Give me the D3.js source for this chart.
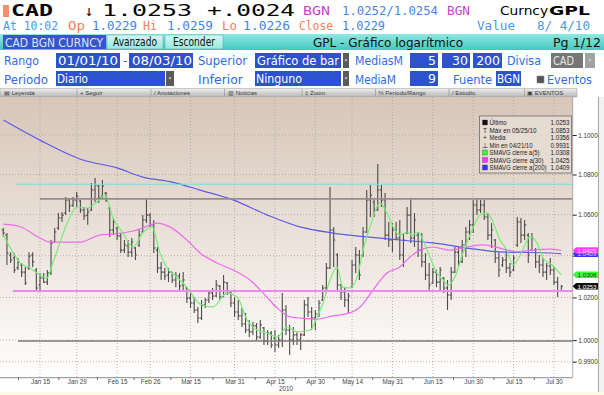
<!DOCTYPE html>
<html>
<head>
<meta charset="utf-8">
<script src="https://cdn.jsdelivr.net/npm/d3@7"></script>
<style>
html, body { margin: 0; padding: 0; background: #fff; overflow: hidden; }
svg { display: block; }
</style>
</head>
<body>
<div id="chart"></div>
<script>
// trading days 01/01/10 - 08/03/10
var dates = d3.timeDay.range(new Date(2010, 0, 1), new Date(2010, 7, 4)).filter(function(d) {
    var w = d.getDay(); return w > 0 && w < 6;
});

var opens = [1.0525,1.0500,1.0403,1.0389,1.0341,1.0355,1.0321,1.0341,1.0403,1.0331,
 1.0259,1.0293,1.0273,1.0317,1.0466,1.0535,1.0584,1.0608,1.0673,1.0648,
 1.0673,1.0668,1.0623,1.0598,1.0623,1.0722,1.0742,1.0692,1.0707,1.0633,
 1.0525,1.0535,1.0496,1.0427,1.0447,1.0417,1.0437,1.0452,1.0515,1.0574,
 1.0598,1.0550,1.0427,1.0341,1.0321,1.0307,1.0321,1.0283,1.0302,1.0259,
 1.0245,1.0197,1.0174,1.0141,1.0103,1.0164,1.0188,1.0221,1.0207,1.0254,
 1.0202,1.0269,1.0226,1.0174,1.0131,1.0113,1.0075,1.0047,1.0038,1.0066,
 1.0014,1.0057,0.9995,1.0033,1.0009,0.9977,1.0000,1.0141,1.0047,1.0000,
 1.0024,1.0000,1.0024,1.0164,1.0131,1.0103,1.0122,1.0188,1.0245,1.0341,
 1.0525,1.0403,1.0259,1.0226,1.0188,1.0249,1.0355,1.0403,1.0403,1.0515,
 1.0673,1.0663,1.0623,1.0722,1.0673,1.0500,1.0476,1.0525,1.0486,1.0403,
 1.0510,1.0598,1.0486,1.0500,1.0427,1.0370,1.0307,1.0269,1.0321,1.0273,
 1.0293,1.0245,1.0212,1.0321,1.0417,1.0370,1.0452,1.0515,1.0550,1.0648,
 1.0623,1.0648,1.0589,1.0500,1.0476,1.0389,1.0355,1.0379,1.0341,1.0331,
 1.0452,1.0564,1.0500,1.0500,1.0427,1.0427,1.0370,1.0355,1.0321,1.0350,
 1.0331,1.0273,1.0229];
var highs = [1.0535,1.0510,1.0417,1.0413,1.0389,1.0365,1.0345,1.0417,1.0417,1.0341,
 1.0317,1.0317,1.0331,1.0476,1.0535,1.0608,1.0613,1.0688,1.0683,1.0688,
 1.0712,1.0673,1.0638,1.0633,1.0757,1.0782,1.0747,1.0772,1.0712,1.0638,
 1.0584,1.0540,1.0510,1.0476,1.0476,1.0486,1.0442,1.0525,1.0598,1.0683,
 1.0608,1.0574,1.0442,1.0370,1.0341,1.0341,1.0321,1.0321,1.0317,1.0321,
 1.0249,1.0226,1.0202,1.0155,1.0188,1.0197,1.0235,1.0245,1.0283,1.0259,
 1.0307,1.0273,1.0226,1.0202,1.0188,1.0150,1.0127,1.0094,1.0085,1.0080,
 1.0094,1.0061,1.0047,1.0042,1.0047,1.0024,1.0221,1.0164,1.0071,1.0061,
 1.0038,1.0033,1.0188,1.0202,1.0155,1.0141,1.0188,1.0259,1.0365,1.0737,
 1.0540,1.0413,1.0264,1.0249,1.0221,1.0379,1.0442,1.0427,1.0540,1.0722,
 1.0747,1.0673,1.0853,1.0747,1.0707,1.0564,1.0559,1.0564,1.0574,1.0510,
 1.0638,1.0683,1.0608,1.0515,1.0510,1.0413,1.0365,1.0341,1.0331,1.0345,
 1.0297,1.0283,1.0345,1.0442,1.0442,1.0476,1.0540,1.0574,1.0673,1.0683,
 1.0673,1.0673,1.0608,1.0559,1.0481,1.0417,1.0394,1.0427,1.0365,1.0403,
 1.0589,1.0584,1.0574,1.0510,1.0510,1.0437,1.0403,1.0389,1.0365,1.0389,
 1.0345,1.0297,1.0259];
var lows = [1.0491,1.0355,1.0365,1.0317,1.0331,1.0297,1.0259,1.0331,1.0345,1.0235,
 1.0226,1.0269,1.0259,1.0307,1.0461,1.0525,1.0564,1.0598,1.0613,1.0638,
 1.0638,1.0608,1.0574,1.0550,1.0618,1.0663,1.0658,1.0683,1.0663,1.0491,
 1.0500,1.0476,1.0413,1.0413,1.0394,1.0394,1.0379,1.0442,1.0515,1.0559,
 1.0540,1.0413,1.0317,1.0283,1.0283,1.0273,1.0269,1.0249,1.0235,1.0235,
 1.0174,1.0150,1.0127,1.0080,1.0094,1.0150,1.0174,1.0188,1.0202,1.0188,
 1.0202,1.0212,1.0155,1.0108,1.0094,1.0061,1.0033,1.0014,1.0024,1.0000,
 1.0005,0.9977,0.9977,0.9963,0.9945,0.9963,0.9968,1.0024,0.9931,0.9977,
 0.9977,0.9954,1.0019,1.0108,1.0047,1.0047,1.0108,1.0183,1.0221,1.0336,
 1.0345,1.0235,1.0188,1.0155,1.0127,1.0245,1.0317,1.0283,1.0394,1.0510,
 1.0589,1.0589,1.0618,1.0638,1.0476,1.0442,1.0417,1.0476,1.0379,1.0345,
 1.0505,1.0461,1.0442,1.0394,1.0345,1.0283,1.0226,1.0264,1.0249,1.0226,
 1.0221,1.0141,1.0188,1.0317,1.0345,1.0365,1.0394,1.0476,1.0510,1.0598,
 1.0608,1.0574,1.0476,1.0437,1.0365,1.0297,1.0345,1.0317,1.0297,1.0326,
 1.0442,1.0461,1.0476,1.0365,1.0422,1.0341,1.0317,1.0297,1.0283,1.0307,
 1.0259,1.0202,1.0226];
var closes = [1.0510,1.0413,1.0379,1.0331,1.0370,1.0321,1.0269,1.0398,1.0370,1.0245,
 1.0293,1.0273,1.0317,1.0461,1.0515,1.0584,1.0598,1.0673,1.0643,1.0673,
 1.0692,1.0623,1.0594,1.0613,1.0722,1.0747,1.0683,1.0742,1.0673,1.0525,
 1.0564,1.0496,1.0427,1.0452,1.0417,1.0466,1.0403,1.0500,1.0574,1.0598,
 1.0550,1.0437,1.0341,1.0321,1.0302,1.0321,1.0283,1.0302,1.0254,1.0283,
 1.0197,1.0174,1.0141,1.0103,1.0164,1.0188,1.0221,1.0207,1.0259,1.0202,
 1.0273,1.0226,1.0174,1.0131,1.0113,1.0075,1.0047,1.0038,1.0066,1.0014,
 1.0071,0.9995,1.0033,0.9977,0.9977,1.0000,1.0141,1.0047,1.0000,1.0024,
 1.0000,1.0024,1.0164,1.0131,1.0103,1.0122,1.0174,1.0245,1.0341,1.0525,
 1.0476,1.0259,1.0226,1.0188,1.0207,1.0355,1.0403,1.0307,1.0515,1.0673,
 1.0697,1.0623,1.0722,1.0673,1.0500,1.0476,1.0525,1.0486,1.0403,1.0476,
 1.0598,1.0486,1.0574,1.0427,1.0370,1.0307,1.0259,1.0321,1.0273,1.0331,
 1.0245,1.0212,1.0321,1.0417,1.0370,1.0452,1.0515,1.0550,1.0648,1.0623,
 1.0648,1.0589,1.0500,1.0525,1.0389,1.0331,1.0379,1.0341,1.0321,1.0389,
 1.0564,1.0500,1.0550,1.0403,1.0486,1.0370,1.0355,1.0321,1.0350,1.0331,
 1.0273,1.0231,1.0253];

// moving averages: [day index, value]
var sma5Pts = [[0,1.0500],[1.8,1.0442],[4.6,1.0365],[7.3,1.0341],[9.2,1.0317],[11.9,1.0293],
 [13.5,1.0365],[15.4,1.0461],[17.4,1.0559],[20.1,1.0638],[22.8,1.0633],[25.5,1.0663],
 [27.7,1.0697],[29.9,1.0584],[32.6,1.0510],[35.3,1.0442],[38,1.0510],[40.5,1.0540],
 [42.7,1.0413],[44.6,1.0341],[47.3,1.0297],[50,1.0249],[53.6,1.0169],[57.1,1.0155],
 [60.9,1.0221],[63.7,1.0202],[66.4,1.0094],[69.1,1.0047],[71.8,1.0033],[74.6,1.0014],
 [77.3,1.0061],[80,1.0038],[83.6,1.0047],[85.5,1.0108],[87.1,1.0174],[89,1.0283],
 [90.9,1.0345],[92.5,1.0249],[94.4,1.0245],[96.4,1.0297],[98,1.0427],[99.9,1.0540],
 [102.6,1.0658],[104.5,1.0608],[106.2,1.0540],[108,1.0500],[110,1.0515],[111.3,1.0500],
 [113,1.0515],[114.3,1.0476],[116.2,1.0394],[118.1,1.0317],[119.8,1.0283],[121.2,1.0259],
 [123,1.0297],[125.2,1.0413],[127.7,1.0525],[129.9,1.0598],[131.8,1.0608],[133.4,1.0564],
 [135.3,1.0476],[137.2,1.0427],[138.8,1.0355],[140.8,1.0403],[143.5,1.0491],[145.4,1.0461],
 [147,1.0389],[149.5,1.0355],[152,1.0308]];
var sma30Pts = [[0,1.0554],[4.6,1.0541],[10,1.0486],[12.7,1.0466],[20.9,1.0466],[26.3,1.0500],
 [29.9,1.0505],[35.3,1.0520],[38,1.0535],[41.9,1.0559],[45.4,1.0540],[50,1.0476],
 [53.6,1.0413],[58.2,1.0365],[62.6,1.0331],[67.2,1.0283],[71.8,1.0202],[74.6,1.0150],
 [78.1,1.0108],[80.8,1.0103],[85.5,1.0098],[89.8,1.0113],[94.4,1.0127],[97.2,1.0155],
 [100.7,1.0235],[104.5,1.0317],[108,1.0345],[110.8,1.0394],[113.5,1.0427],[117,1.0442],
 [121.7,1.0427],[126.3,1.0442],[130.7,1.0452],[135.3,1.0437],[140,1.0418],[144.3,1.0427],
 [149,1.0432],[152,1.0425]];
var sma200Pts = [[0,1.1077],[10,1.0974],[21.7,1.0873],[31,1.0833],[38,1.0787],[46,1.0762],
 [53.6,1.0722],[62.6,1.0673],[71.8,1.0599],[80.8,1.0540],[89.8,1.0510],[99,1.0491],
 [108,1.0476],[117,1.0462],[126.3,1.0437],[135.3,1.0418],[149,1.0413],[152,1.0409]];

// horizontal lines drawn on the chart
var levelValues = [1.0751, 1.0678, 1.0231, 0.9996];
var levelStart = [3.7, 10, 2.6, 4];

var yTicks = [0.99, 1.00, 1.02, 1.04, 1.06, 1.08, 1.10];
var tickDates = ["2010-01-15","2010-01-29","2010-02-15","2010-02-26","2010-03-15","2010-03-31",
 "2010-04-15","2010-04-30","2010-05-14","2010-05-31","2010-06-15","2010-06-30","2010-07-15","2010-07-30"];
var tickLabels = ["Jan 15","Jan 29","Feb 15","Feb 26","Mar 15","Mar 31","Apr 15","Apr 30",
 "May 14","May 31","Jun 15","Jun 30","Jul 15","Jul 30"];

var legendNames = ["Último","Máx en 05/25/10","Media","Mín en 04/21/10",
 "SMAVG cierre a(5)","SMAVG cierre a(30)","SMAVG cierre a(200)"];
var legendValues = [1.0253, 1.0853, 1.0356, 0.9931, 1.0308, 1.0425, 1.0409];

var sans = "'DejaVu Sans', Verdana, sans-serif";
var small = "'Liberation Sans', Arial, sans-serif";
var mono = "'DejaVu Sans Mono', monospace";
var fmt = d3.format(".4f");
var iso = d3.timeFormat("%Y-%m-%d");
var tickIdx = tickDates.map(function(s) {
    return dates.findIndex(function(d) { return iso(d) === s; });
});

var svg = d3.select("#chart").append("svg").attr("width", 604).attr("height", 395);
var defs = svg.append("defs");
function grad(id, stops) {
    var g = defs.append("linearGradient").attr("id", id)
        .attr("x1", 0).attr("y1", 0).attr("x2", 0).attr("y2", 1);
    stops.forEach(function(s) { g.append("stop").attr("offset", s[0]).attr("stop-color", s[1]); });
}
grad("plotBg", [[0, "#d7c6b9"], [0.5, "#ebe2da"], [0.85, "#f9f6f3"], [1, "#ffffff"]]);
grad("teal", [[0, "#8fe9e2"], [1, "#43c8c0"]]);
grad("tab", [[0, "#d2f8f4"], [1, "#98e8e0"]]);
grad("tool", [[0, "#eeeeee"], [1, "#b6b6b6"]]);

function txt(g, s, x0, y0, o) {
    var t = g.append("text").attr("x", x0).attr("y", y0).text(s)
        .attr("font-family", o.f || sans).attr("font-size", o.s || 12)
        .attr("fill", o.c || "#000");
    if (o.w) t.attr("textLength", o.w).attr("lengthAdjust", "spacingAndGlyphs");
    if (o.b) t.attr("font-weight", "bold");
    if (o.a) t.attr("text-anchor", o.a);
    return t;
}

// ---------- header ----------
var head = svg.append("g");
head.append("rect").attr("x", 3).attr("y", 5).attr("width", 6).attr("height", 12).attr("fill", "#f28e6e");
txt(head, "CAD", 11, 15.5, {f: mono, s: 15, w: 42, b: 1});
txt(head, "↓", 85, 15.5, {f: mono, s: 15, w: 8});
txt(head, "1.0253", 102, 15.5, {f: mono, s: 15, w: 90});
txt(head, "+.0024", 207, 15.5, {f: mono, s: 15, w: 88});
txt(head, "BGN", 303, 15, {f: mono, s: 11.5, w: 27, c: "#cc3fcc"});
txt(head, "1.0252/1.0254", 342, 15, {f: mono, s: 12, w: 96, c: "#4a85e6"});
txt(head, "BGN", 447, 15, {f: mono, s: 11.5, w: 23, c: "#cc3fcc"});
txt(head, "Curncy", 500, 15, {s: 12, w: 48});
txt(head, "GPL", 549, 15, {s: 13, w: 41, b: 1});

var blue2 = "#3f86e4", orange = "#f2805a", light = "#4b97ea";
[["At 10:02", 3, 55, light], ["Op", 68, 17, orange], ["1.0229", 92, 45, blue2],
 ["Hi", 143, 14, orange], ["1.0259", 167, 46, blue2], ["Lo", 222, 15, orange],
 ["1.0226", 243, 47, blue2], ["Close", 299, 34, orange], ["1.0229", 342, 43, blue2],
 ["Value", 477, 38, light], ["8/ 4/10", 537, 53, light]].forEach(function(r) {
    txt(head, r[0], r[1], 29.5, {f: mono, s: 12, w: r[2], c: r[3]});
});

head.append("rect").attr("x", 0).attr("y", 34).attr("width", 604).attr("height", 16).attr("fill", "url(#teal)");
head.append("rect").attr("x", 3).attr("y", 35).attr("width", 103).attr("height", 14).attr("fill", "#3557cc");
txt(head, "CAD BGN CURNCY", 5, 46.5, {s: 12, w: 98, c: "#dce4ff"});
[[107, 56, "Avanzado", 113, 44], [165, 58, "Esconder", 173, 42]].forEach(function(t) {
    head.append("rect").attr("x", t[0]).attr("y", 35).attr("width", t[1]).attr("height", 14)
        .attr("fill", "url(#tab)").attr("stroke", "#4aa9a2").attr("stroke-width", 0.5);
    txt(head, t[2], t[3], 46, {s: 11.5, w: t[4], c: "#111"});
});
txt(head, "GPL - Gráfico logarítmico", 313, 46.5, {s: 12, w: 150, c: "#111"});
txt(head, "Pg 1/12", 553, 46.5, {s: 12, w: 48, c: "#111"});

var lblBlue = "#2e6be6", boxBlue = "#2d52cf";
function box(x0, y0, w, s, tx, tw, right) {
    head.append("rect").attr("x", x0).attr("y", y0).attr("width", w).attr("height", 15).attr("fill", boxBlue);
    return txt(head, s, right ? x0 + w - 2 : tx, y0 + 12, {s: 12.5, w: tw, c: "#fff", a: right ? "end" : null});
}
function drop(x0, y0, w, fill) {
    head.append("rect").attr("x", x0).attr("y", y0).attr("width", w).attr("height", 15).attr("fill", fill || "#5a5a5a");
    head.append("path").attr("d", "M" + (x0 + w / 2 - 1.5) + "," + (y0 + 6.5) + "h3l-1.5,2z").attr("fill", "#e0e0e0");
}
txt(head, "Rango", 4, 65, {s: 12.5, w: 35, c: lblBlue});
box(56, 53, 64, "01/01/10", 58, 60);
txt(head, "-", 123, 65, {s: 12.5, c: lblBlue});
box(129, 53, 64, "08/03/10", 132, 60);
txt(head, "Superior", 198, 65, {s: 12.5, w: 49, c: lblBlue});
box(255, 53, 86, "Gráfico de bar", 257, 82);
drop(343, 53, 6);
txt(head, "MediasM", 355, 65, {s: 12.5, w: 48, c: lblBlue});
box(410, 53, 28, "5", 0, 0, true);
box(442, 53, 28, "30", 0, 0, true);
box(473, 53, 29, "200", 0, 0, true);
txt(head, "Divisa", 507, 65, {s: 12.5, w: 34, c: lblBlue});
head.append("rect").attr("x", 551).attr("y", 53).attr("width", 32).attr("height", 15).attr("fill", "#767676");
txt(head, "CAD", 553, 65, {s: 12.5, w: 21, c: "#e6e6e6"});
drop(585, 53, 10, "#a2a2a2");

txt(head, "Periodo", 4, 83.5, {s: 12.5, w: 44, c: lblBlue});
box(56, 71, 109, "Diario", 57, 31);
drop(166, 71, 8);
txt(head, "Inferior", 198, 83.5, {s: 12.5, w: 45, c: lblBlue});
box(255, 71, 86, "Ninguno", 256, 46);
drop(343, 71, 6);
txt(head, "MediaM", 355, 83.5, {s: 12.5, w: 41, c: lblBlue});
box(410, 71, 28, "9", 0, 0, true);
txt(head, "Fuente", 453, 83.5, {s: 12.5, w: 39, c: lblBlue});
box(496, 71, 25, "BGN", 497, 23);
head.append("rect").attr("x", 537).attr("y", 76).attr("width", 7).attr("height", 7)
    .attr("fill", "#555").attr("stroke", "#888").attr("stroke-width", 0.6);
txt(head, "Eventos", 547, 83.5, {s: 12.5, w: 45, c: lblBlue});

// toolbar
var tool = svg.append("g");
tool.append("rect").attr("x", 0).attr("y", 88.5).attr("width", 577).attr("height", 8.5)
    .attr("fill", "url(#tool)").attr("stroke", "#9a9a9a").attr("stroke-width", 0.5);
[77, 151, 224.5, 302, 375.5, 449, 524.6].forEach(function(sx) {
    tool.append("line").attr("x1", sx).attr("x2", sx).attr("y1", 89).attr("y2", 96.5)
        .attr("stroke", "#8a8a8a").attr("stroke-width", 0.6);
});
[["▤ Leyenda", 4], ["+ Seguir", 80], ["/ Anotaciones", 154], ["▥ Noticias", 228],
 ["‡ Zoom", 305], ["⅍ Período/Rango", 378], ["/ Estudio", 452], ["▣ EVENTOS", 527]].forEach(function(t) {
    txt(tool, t[0], t[1], 95.3, {f: small, s: 6, c: "#3a3a3a"});
});

// ---------- plot ----------
var x = d3.scaleLinear().domain([-0.35, 155.1]).range([2, 572.7]);
var y = d3.scaleLog().domain([0.98266, 1.1196]).range([377.7, 97]);

defs.append("clipPath").attr("id", "clip").append("rect")
    .attr("x", 0).attr("y", 97).attr("width", 572.7).attr("height", 280.7);

var plot = svg.append("g");
plot.append("rect").attr("x", 0).attr("y", 97).attr("width", 572.7).attr("height", 280.7)
    .attr("fill", "url(#plotBg)");

var grid = plot.append("g").attr("stroke", "#a8a29c").attr("stroke-width", 0.8)
    .attr("stroke-dasharray", "1,2");
grid.selectAll(".gv").data(tickIdx).enter().append("line").attr("class", "gv")
    .attr("x1", function(d) { return x(d); }).attr("x2", function(d) { return x(d); })
    .attr("y1", 97).attr("y2", 377.7);
grid.selectAll(".gh").data(yTicks).enter().append("line").attr("class", "gh")
    .attr("x1", 0).attr("x2", 572.7)
    .attr("y1", function(d) { return y(d); }).attr("y2", function(d) { return y(d); });

var inner = plot.append("g").attr("clip-path", "url(#clip)");

var bars = inner.append("g").attr("stroke", "#4b4b4b").attr("stroke-width", 1.1);
var idx = d3.range(closes.length);
bars.selectAll(".hl").data(idx).enter().append("line").attr("class", "hl")
    .attr("x1", function(i) { return x(i); }).attr("x2", function(i) { return x(i); })
    .attr("y1", function(i) { return y(highs[i]); }).attr("y2", function(i) { return y(lows[i]); });
bars.selectAll(".op").data(idx).enter().append("line").attr("class", "op")
    .attr("x1", function(i) { return x(i) - 1.6; }).attr("x2", function(i) { return x(i); })
    .attr("y1", function(i) { return y(opens[i]); }).attr("y2", function(i) { return y(opens[i]); });
bars.selectAll(".cl").data(idx).enter().append("line").attr("class", "cl")
    .attr("x1", function(i) { return x(i); }).attr("x2", function(i) { return x(i) + 1.6; })
    .attr("y1", function(i) { return y(closes[i]); }).attr("y2", function(i) { return y(closes[i]); });

var line = d3.line().x(function(d) { return x(d[0]); }).y(function(d) { return y(d[1]); })
    .curve(d3.curveMonotoneX);
[[sma200Pts, "#5b5be8"], [sma30Pts, "#ee6cee"], [sma5Pts, "#74ee74"]].forEach(function(s) {
    inner.append("path").attr("d", line(s[0])).attr("fill", "none")
        .attr("stroke", s[1]).attr("stroke-width", 1.2);
});

var levelColor = ["#6fe4df", "#9c8890", "#ef88ef", "#7a7a7a"];
var levelWidth = [1.2, 1.6, 2, 1.4];
levelValues.forEach(function(v, k) {
    inner.append("line").attr("x1", x(levelStart[k])).attr("x2", 572.7)
        .attr("y1", y(v)).attr("y2", y(v))
        .attr("stroke", levelColor[k]).attr("stroke-width", levelWidth[k]);
});

plot.append("line").attr("x1", 572.7).attr("x2", 572.7).attr("y1", 97).attr("y2", 377.7)
    .attr("stroke", "#9a9a9a").attr("stroke-width", 0.8);

// legend
var lg = svg.append("g");
lg.append("rect").attr("x", 479.5).attr("y", 116).attr("width", 92).attr("height", 57)
    .attr("fill", "#e8ded5").attr("fill-opacity", 0.85).attr("stroke", "#6a6a6a").attr("stroke-width", 0.8);
var lgIcon = ["sq", "T", "+", "⊥", "sq", "sq", "sq"];
var lgFill = ["#111", null, null, null, "#33ff33", "#ff33ff", "#3333ff"];
var lgWidth = [17, 47, 16, 43, 50, 54, 57];
legendNames.forEach(function(n, k) {
    var by = 125 + k * 7.5;
    if (lgIcon[k] === "sq") {
        lg.append("rect").attr("x", 482.5).attr("y", by - 5).attr("width", 5).attr("height", 5)
            .attr("fill", lgFill[k]).attr("stroke", "#333").attr("stroke-width", 0.3);
    } else {
        txt(lg, lgIcon[k], 485, by, {f: small, s: 6.5, c: "#222", a: "middle"});
    }
    txt(lg, n, 489.5, by, {f: small, s: 6.4, c: "#222", w: lgWidth[k]});
    txt(lg, fmt(legendValues[k]), 550.5, by, {f: small, s: 6.4, c: "#222", w: 19});
});

// y axis (the 1.0400 label sits under the value tags)
var yAx = svg.append("g").attr("transform", "translate(572.7,0)")
    .call(d3.axisRight(y).tickValues(yTicks)
        .tickFormat(function(d) { return d === 1.04 ? "" : fmt(d); })
        .tickSize(4).tickPadding(1.5));
yAx.select(".domain").remove();
yAx.selectAll("text").attr("font-size", 7).attr("font-family", small).attr("fill", "#333")
    .filter(function(d) { return d !== 1.04; })
    .attr("textLength", 19.5).attr("lengthAdjust", "spacingAndGlyphs");
yAx.selectAll("line").attr("stroke", "#222");

// value tags on the right axis
var tagVals = [legendValues[6], legendValues[5], legendValues[4], legendValues[0]];
var tagFill = ["#3434ee", "#ff3cff", "#3cff3c", "#111111"];
var tagText = ["#d8d8ff", "#ffe0ff", "#0a3a0a", "#ffffff"];
tagVals.forEach(function(v, k) {
    var cy = y(v);
    svg.append("path")
        .attr("d", "M572.7," + cy + "L576," + (cy - 3.2) + "H598V" + (cy + 3.2) + "H576Z")
        .attr("fill", tagFill[k]);
    txt(svg, fmt(v), 577.5, cy + 2.3, {f: small, s: 6.2, c: tagText[k], w: 19});
});

// x axis
var xAx = svg.append("g").attr("transform", "translate(0,377.7)")
    .call(d3.axisBottom(x).tickValues(tickIdx).tickFormat(function(d, k) { return tickLabels[k]; })
        .tickSize(0).tickPadding(2));
xAx.select(".domain").attr("stroke", "#8c8c8c").attr("d", "M0,0H572.7");
xAx.selectAll("text").attr("font-size", 6.3).attr("font-family", small).attr("fill", "#444");
var minor = [4].concat(d3.pairs(tickIdx).map(function(p) { return (p[0] + p[1]) / 2; }));
var xMin = svg.append("g").attr("transform", "translate(0,377.7)")
    .call(d3.axisBottom(x).tickValues(minor).tickFormat("").tickSize(2));
xMin.select(".domain").remove();
xMin.selectAll("line").attr("stroke", "#555");
txt(svg, "2010", x(tickIdx[6]) + 11, 390.5, {f: small, s: 6.3, c: "#444", a: "middle"});

// frame on the right and bottom strip
svg.append("rect").attr("x", 598).attr("y", 97).attr("width", 1.2).attr("height", 295).attr("fill", "#a8a8a8");
svg.append("rect").attr("x", 599.2).attr("y", 97).attr("width", 4.8).attr("height", 295).attr("fill", "#f2f2f2");
svg.append("rect").attr("x", 0).attr("y", 392).attr("width", 604).attr("height", 3).attr("fill", "#fcf9e6");
</script>
</body>
</html>
